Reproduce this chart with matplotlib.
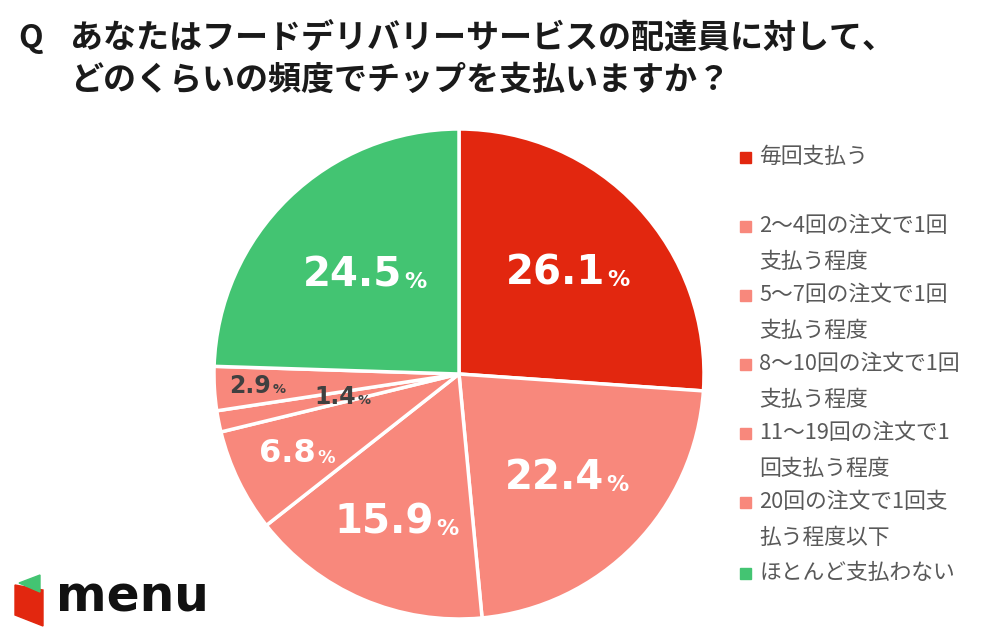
import matplotlib
matplotlib.use("Agg")
import matplotlib.pyplot as plt
from matplotlib.patches import Polygon, Rectangle
import numpy as np

plt.rcParams['font.family'] = ['Noto Sans CJK JP', 'DejaVu Sans']

W, H = 983, 637

labels = ['毎回支払う',
          '2～4回の注文で1回\n支払う程度',
          '5～7回の注文で1回\n支払う程度',
          '8～10回の注文で1回\n支払う程度',
          '11～19回の注文で1\n回支払う程度',
          '20回の注文で1回支\n払う程度以下',
          'ほとんど支払わない']
values = [26.1, 22.4, 15.9, 6.8, 1.4, 2.9, 24.5]
colors = ['#E2270F', '#F8887C', '#F8887C', '#F8887C', '#F8887C', '#F8887C', '#43C472']
label_colors = ['white', 'white', 'white', 'white', '#404040', '#404040', 'white']
label_radius = [0.6, 0.61, 0.66, 0.74, 0.49, 0.83, 0.56]
label_size = [29, 29, 29, 23, 17, 17, 29]

fig = plt.figure(figsize=(W / 100, H / 100), dpi=100)


def px(x, y):
    return x / W, 1 - y / H


# title
fig.text(*px(18, 38), 'Q', fontsize=23, fontweight='bold', color='#1a1a1a', va='center')
fig.text(*px(70, 38), 'あなたはフードデリバリーサービスの配達員に対して、',
         fontsize=23.8, fontweight='bold', color='#1a1a1a', va='center')
fig.text(*px(70, 80), 'どのくらいの頻度でチップを支払いますか？',
         fontsize=23.8, fontweight='bold', color='#1a1a1a', va='center')

# pie
cx, cy, r = 459, 374, 245
ax = fig.add_axes([(cx - r) / W, (H - cy - r) / H, 2 * r / W, 2 * r / H])
wedges, _ = ax.pie(values, colors=colors, startangle=90, counterclock=False,
                   wedgeprops=dict(edgecolor='white', linewidth=2.5))
ax.set_xlim(-1, 1)
ax.set_ylim(-1, 1)
ax.set_aspect('equal')

renderer = fig.canvas.get_renderer()
cum = 0
for v, c, rr, fs in zip(values, label_colors, label_radius, label_size):
    mid = np.deg2rad(90 - (cum + v / 2) * 3.6)
    cum += v
    x, y = rr * np.cos(mid), rr * np.sin(mid)
    t1 = ax.text(x, y, f'{v:.1f}', fontsize=fs, fontweight='bold', color=c,
                 family='DejaVu Sans', ha='right', va='center')
    t2 = ax.text(x, y, '%', fontsize=fs * 0.55, fontweight='bold', color=c,
                 family='DejaVu Sans', ha='left', va='center')
    w1 = t1.get_window_extent(renderer).width
    w2 = t2.get_window_extent(renderer).width
    shift = (w1 - (w1 + w2) / 2) / r  # px -> data units
    t1.set_x(x + shift)
    t2.set_x(x + shift + 0.008)
    t2.set_y(y - fs * 0.0009)

# legend
leg_y = [157, 226, 295, 364, 433, 502, 573]
for yy, lab, col in zip(leg_y, labels, colors):
    fig.patches.append(Rectangle(px(740, yy + 6), 11 / W, 11 / H, color=col,
                                 transform=fig.transFigure))
    for i, ln in enumerate(lab.split('\n')):
        fig.text(*px(759, yy + i * 36), ln, fontsize=15.7, color='#595959', va='center')

# logo
fig.patches.append(Polygon([px(15, 585), px(43, 590), px(43, 626), px(15, 615)],
                           closed=True, color='#E2270F', transform=fig.transFigure))
fig.patches.append(Polygon([px(19, 583), px(40, 575), px(40, 592)],
                           closed=True, color='#43C472', transform=fig.transFigure))
fig.text(*px(56, 598), 'menu', fontsize=35, fontweight='bold', color='#111111',
         family='DejaVu Sans', va='center')

fig.savefig('out.png', dpi=100)
